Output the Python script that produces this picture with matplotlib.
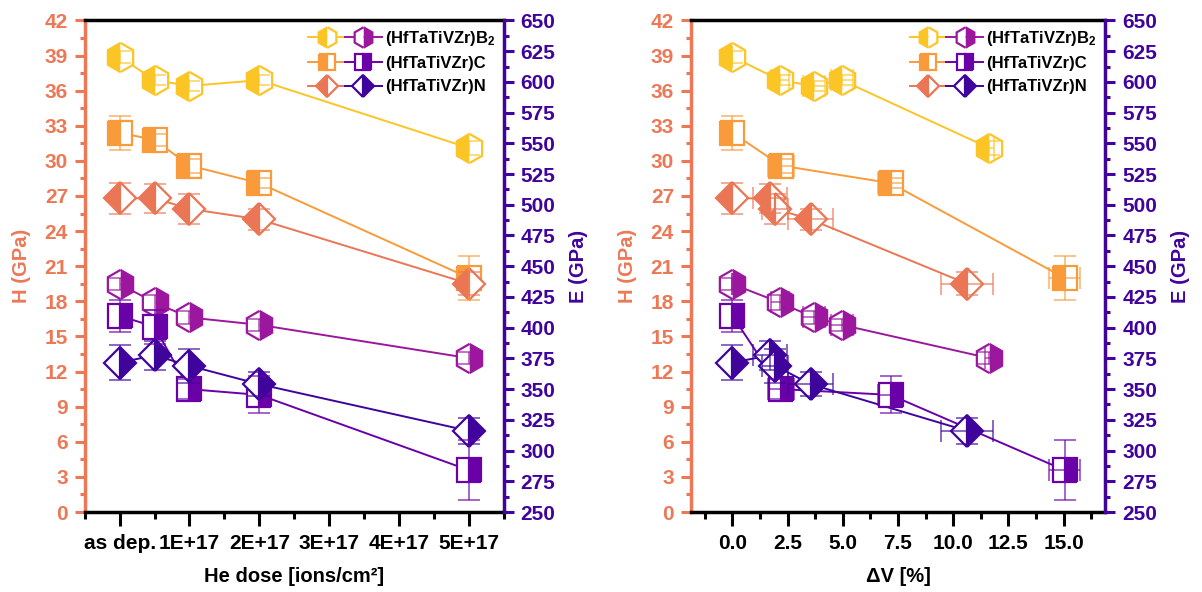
import matplotlib.pyplot as plt
import numpy as np
from matplotlib.lines import Line2D
from matplotlib.legend_handler import HandlerTuple
from matplotlib.ticker import MultipleLocator, FixedLocator

plt.rcParams['font.family'] = 'Liberation Sans'
plt.rcParams['font.weight'] = 'bold'
plt.rcParams['axes.labelweight'] = 'bold'
plt.rcParams['mathtext.fontset'] = 'custom'
plt.rcParams['mathtext.bf'] = 'Liberation Sans:bold'
plt.rcParams['mathtext.rm'] = 'Liberation Sans:bold'
plt.rcParams['mathtext.default'] = 'bf'

# He irradiation dose (ions/cm2)
dose = [0, 0.5e17, 1e17, 2e17, 5e17]
dose_labels = ['as dep.', '1E+17', '2E+17', '3E+17', '4E+17', '5E+17']

# Volume change (%) for each dose step, nan = not measured
dV_B2 = [0, 2.14, 3.69, 4.95, 11.63]
dV_B2_err = [0, 0.4, 0.5, 0.5, 0.2]
dV_C = [0, np.nan, 2.2, 7.16, 15.05]
dV_C_err = [0, 0, 0.6, 0.57, 0.71]
dV_N = [0, 1.7, 1.93, 3.54, 10.63]
dV_N_err = [0, 0.75, 0.6, 1.03, 1.18]

# Hardness H (GPa)
H_B2 = [38.9, 36.9, 36.4, 36.9, 31.1]
H_B2_err = [0.5, 0.45, 0.4, 0.45, 0.6]
H_C = [32.4, 31.8, 29.6, 28.1, 20.0]
H_C_err = [1.45, 0.5, 0.6, 0.4, 1.9]
H_N = [26.8, 26.8, 25.9, 25.0, 19.5]
H_N_err = [1.3, 1.25, 1.25, 0.9, 1.0]

# Elastic modulus E (GPa)
E_B2 = [435.5, 420.5, 408.3, 402.3, 375.2]
E_B2_err = [5, 6, 5, 5, 5]
E_C = [409.7, 400.7, 350.0, 345.3, 284.0]
E_C_err = [13, 14, 8, 15, 24.5]
E_N = [371.6, 377.5, 369.0, 354.0, 316.0]
E_N_err = [14, 12, 14, 10, 10.6]

salmon = '#EC7856'
indigo = '#40049D'
colH = {'B2': '#FCC526', 'C': '#F99B3A', 'N': '#EB7655'}
colE = {'B2': '#9B179E', 'C': '#6A00A8', 'N': '#3E049C'}
marker = {'B2': 'h', 'C': 's', 'N': 'D'}
msize = {'B2': 21, 'C': 17, 'N': 16.5}
labels = ['(HfTaTiVZr)B$_2$', '(HfTaTiVZr)C', '(HfTaTiVZr)N']


def series(ax, x, y, xerr, yerr, c, m, ms, fill):
    x = np.asarray(x, float)
    y = np.asarray(y, float)
    ok = ~np.isnan(x)
    x, y = x[ok], y[ok]
    yerr = np.asarray(yerr, float)[ok]
    if xerr is not None:
        xerr = np.asarray(xerr, float)[ok]
    ax.plot(x, y, '-', color=c, lw=1.4, zorder=2)
    ax.plot(x, y, ls='none', marker=m, ms=ms, fillstyle=fill, color=c,
            mfc=c, mfcalt='white', mec=c, mew=1.6, zorder=3)
    ax.errorbar(x, y, yerr=yerr, xerr=xerr, fmt='none',
                ecolor=c, alpha=0.65, elinewidth=1.3, capsize=8,
                capthick=1.3, zorder=4)


def panel(rect, xdata, xlabel):
    ax = fig.add_axes(rect)
    ax2 = ax.twinx()
    for key, H, He, E, Ee in [('B2', H_B2, H_B2_err, E_B2, E_B2_err),
                              ('C', H_C, H_C_err, E_C, E_C_err),
                              ('N', H_N, H_N_err, E_N, E_N_err)]:
        x, xe = xdata[key]
        series(ax, x, H, xe, He, colH[key], marker[key], msize[key], 'left')
        series(ax2, x, E, xe, Ee, colE[key], marker[key], msize[key], 'right')

    ax.set_ylim(0, 42)
    ax.yaxis.set_major_locator(MultipleLocator(3))
    ax.yaxis.set_minor_locator(MultipleLocator(1.5))
    ax2.set_ylim(250, 650)
    ax2.yaxis.set_major_locator(MultipleLocator(25))
    ax2.yaxis.set_minor_locator(MultipleLocator(12.5))

    ax.set_ylabel('H (GPa)', color=salmon, fontsize=14.5, labelpad=10)
    ax2.set_ylabel('E (GPa)', color=indigo, fontsize=14.5, labelpad=10)
    ax.set_xlabel(xlabel, fontsize=14.5, labelpad=10)

    for s in ['left', 'right', 'top', 'bottom']:
        ax.spines[s].set_linewidth(2.5)
        ax2.spines[s].set_linewidth(2.5)
    ax.spines['left'].set_color(salmon)
    ax.spines['right'].set_visible(False)
    ax2.spines['right'].set_color(indigo)
    for s in ['left', 'top', 'bottom']:
        ax2.spines[s].set_visible(False)

    ax.tick_params(axis='y', which='major', length=7, width=2.2,
                   colors=salmon, labelsize=15, pad=5)
    ax.tick_params(axis='y', which='minor', length=3.5, width=2.2, colors=salmon)
    ax2.tick_params(axis='y', which='major', length=7, width=2.2,
                    colors=indigo, labelsize=15, pad=5)
    ax2.tick_params(axis='y', which='minor', length=3.5, width=2.2, colors=indigo)
    ax.tick_params(axis='x', which='major', length=10, width=2.2,
                   labelsize=15, pad=6)
    ax.tick_params(axis='x', which='minor', length=5, width=2.2)

    handles = []
    for key in ['B2', 'C', 'N']:
        hH = Line2D([], [], color=colH[key], lw=1.4, marker=marker[key],
                    ms=msize[key], fillstyle='left', mfc=colH[key],
                    mfcalt='white', mec=colH[key], mew=1.6)
        hE = Line2D([], [], color=colE[key], lw=1.4, marker=marker[key],
                    ms=msize[key], fillstyle='right', mfc=colE[key],
                    mfcalt='white', mec=colE[key], mew=1.6)
        handles.append((hH, hE))
    ax2.legend(handles, labels, handler_map={tuple: HandlerTuple(ndivide=None, pad=0)},
               loc='upper right', frameon=False, fontsize=12, handlelength=4.4,
               handletextpad=0.2, borderaxespad=0.3, labelspacing=0.5,
               markerscale=0.7, borderpad=0.2)
    return ax, ax2


fig = plt.figure(figsize=(12.02, 5.92), dpi=100)

# He dose panel
dose_x = {'B2': (dose, None), 'C': (dose, None), 'N': (dose, None)}
axA, _ = panel([0.0704, 0.1351, 0.3489, 0.8304], dose_x, 'He dose [ions/cm²]')
axA.set_xlim(-0.5e17, 5.5e17)
axA.xaxis.set_major_locator(FixedLocator([0, 1e17, 2e17, 3e17, 4e17, 5e17]))
axA.xaxis.set_minor_locator(FixedLocator([-0.5e17, 0.5e17, 1.5e17, 2.5e17,
                                          3.5e17, 4.5e17, 5.5e17]))
axA.set_xticklabels(dose_labels)

# Volume change panel
dv_x = {'B2': (dV_B2, dV_B2_err), 'C': (dV_C, dV_C_err), 'N': (dV_N, dV_N_err)}
axB, _ = panel([0.5745, 0.1351, 0.3452, 0.8304], dv_x, 'ΔV [%]')
axB.set_xlim(-1.9, 16.9)
axB.xaxis.set_major_locator(MultipleLocator(2.5))
axB.xaxis.set_minor_locator(MultipleLocator(1.25))
axB.xaxis.set_major_formatter(plt.FormatStrFormatter('%.1f'))

fig.savefig('out.png', dpi=100)
